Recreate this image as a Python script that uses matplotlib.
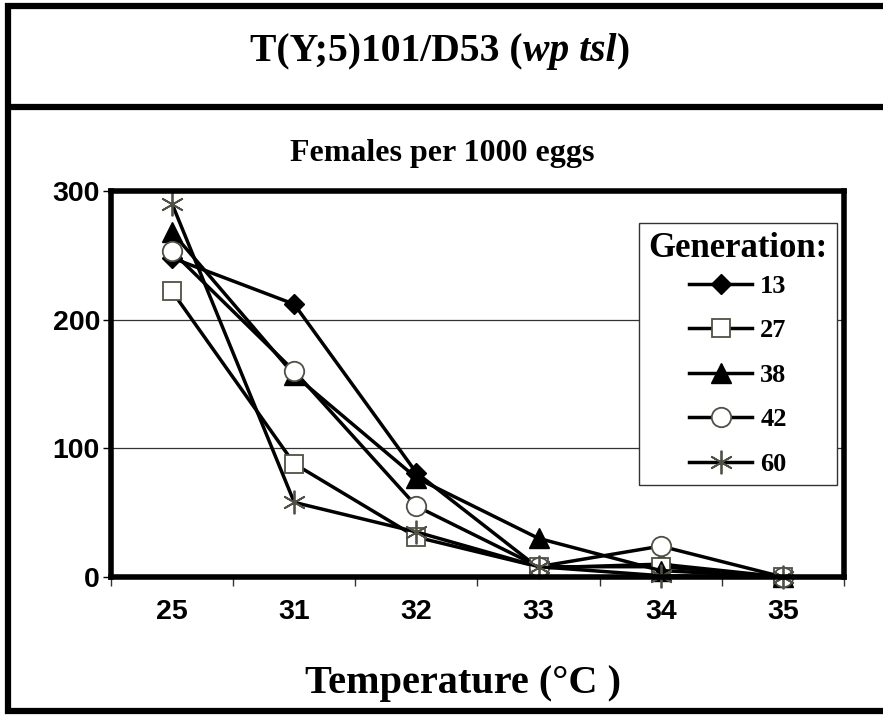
import numpy as np
import matplotlib.pyplot as plt
from matplotlib.lines import Line2D

# data
temps = ['25', '31', '32', '33', '34', '35']
generations = ['13', '27', '38', '42', '60']
g13 = [248, 212, 81, 7, 10, 0]
g27 = [222, 88, 31, 8, 8, 0]
g38 = [268, 157, 77, 30, 5, 0]
g42 = [253, 160, 55, 8, 24, 0]
g60 = [290, 58, 35, 8, 1, 0]
yticks = [0, 100, 200, 300]

W, H = 883, 715
fig = plt.figure(figsize=(W / 100, H / 100), dpi=100)
serif = 'Liberation Serif'
sans = 'Liberation Sans'
grey = '#505046'

def fx(px): return px / W
def fy(py): return 1 - py / H

ax = fig.add_axes([fx(111), fy(577), fx(844) - fx(111), fy(191) - fy(577)])
x = np.arange(len(temps))

styles = [
    (g13, dict(marker='D', ms=10, mfc='black', mec='black', mew=1)),
    (g27, dict(marker='s', ms=13, mfc='white', mec=grey, mew=1.3)),
    (g38, dict(marker='^', ms=15, mfc='black', mec='black', mew=1)),
    (g42, dict(marker='o', ms=14, mfc='white', mec=grey, mew=1.3)),
    (g60, dict(marker=(6, 2, 0), ms=17, mfc=grey, mec=grey, mew=1.3)),
]
handles = []
for vals, st in styles:
    ln, = ax.plot(x, vals, color='black', lw=2.5, clip_on=False, zorder=3, **st)
    handles.append(ln)

ax.set_xlim(-0.5, len(temps) - 0.5)
ax.set_ylim(0, 300)
ax.set_yticks(yticks)
ax.set_yticklabels([str(v) for v in yticks], fontfamily=sans, fontweight='bold', fontsize=20.5)
ax.set_xticks(x)
ax.set_xticklabels(temps, fontfamily=sans, fontweight='bold', fontsize=20.5)
ax.set_xticks(np.arange(-0.5, len(temps)), minor=True)
ax.tick_params(axis='x', which='major', length=0, pad=16)
ax.tick_params(axis='x', which='minor', length=6.5, width=1, color='#333333')
ax.tick_params(axis='y', which='major', length=6, width=1, pad=2)
ax.grid(axis='y', color='#333333', lw=0.9)
ax.set_axisbelow(True)
for s in ax.spines.values():
    s.set_linewidth(4)
    s.set_zorder(4)

leg = ax.legend(handles, generations, title='Generation:', loc='upper left',
                bbox_to_anchor=(fx(639), fy(223)), bbox_transform=fig.transFigure,
                borderaxespad=0, fancybox=False, framealpha=1, edgecolor='#333333',
                handlelength=2.4, handletextpad=0.3, labelspacing=0.8, borderpad=0.35,
                prop=dict(family=serif, weight='bold', size=19),
                title_fontproperties=dict(family=serif, weight='bold', size=25))
leg.get_frame().set_linewidth(1)
leg.set_zorder(5)
leg._legend_box.sep = 6.5  # tighter gap under the legend title

# outer frame
for xs, ys in [((8, 8), (3, 714)), ((5, 883), (6, 6)), ((5, 883), (106.5, 106.5)), ((5, 883), (711, 711))]:
    fig.add_artist(Line2D([fx(v) for v in xs], [fy(v) for v in ys], color='black', lw=4.5,
                          solid_capstyle='butt'))

# title with an italic part
pieces = [('T(Y;5)101/D53 (', 'normal'), ('wp tsl', 'italic'), (')', 'normal')]
r = fig.canvas.get_renderer()
texts = [fig.text(0, fy(52), s, family=serif, weight='bold', style=st, fontsize=28.5, va='center')
         for s, st in pieces]
widths = [t.get_window_extent(r).width for t in texts]
start = 440 - sum(widths) / 2
for t, w in zip(texts, widths):
    t.set_x(fx(start))
    start += w

fig.text(fx(442), fy(153), 'Females per 1000 eggs', family=serif, weight='bold',
         fontsize=23, ha='center', va='center')
fig.text(fx(463), fy(684), 'Temperature (°C )', family=serif, weight='bold',
         fontsize=29, ha='center', va='center')

plt.savefig('out.png', dpi=100)
